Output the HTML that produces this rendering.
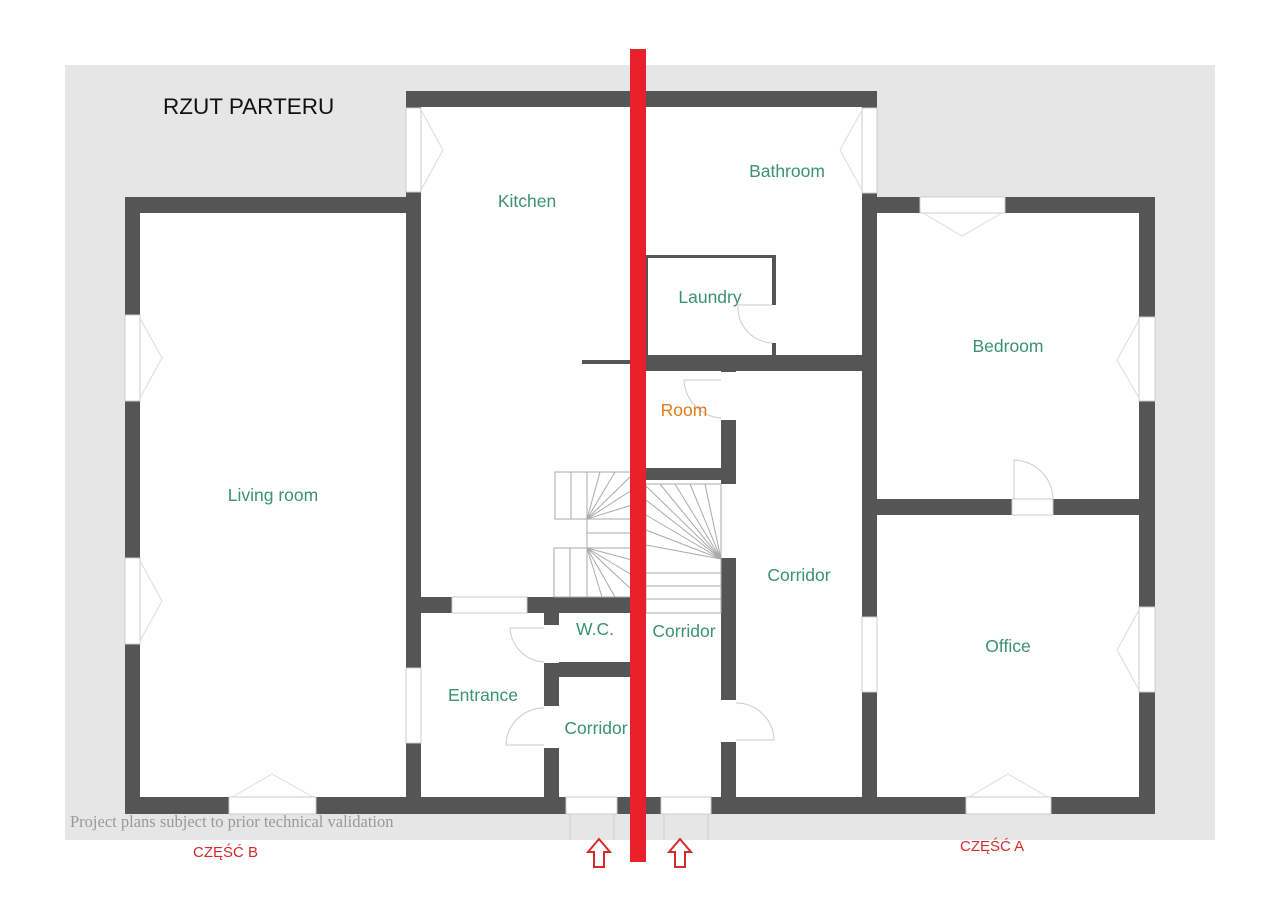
<!DOCTYPE html>
<html><head><meta charset="utf-8"><style>
html,body{margin:0;padding:0;background:#fff;}
svg{display:block;}
.t{font-family:"Liberation Sans",sans-serif;font-size:17.5px;fill:#3b9174;text-anchor:middle;}
</style></head><body>
<svg width="1280" height="905" viewBox="0 0 1280 905" xmlns="http://www.w3.org/2000/svg">
<rect x="65" y="65" width="1150" height="775" fill="#e6e6e6"/>
<rect x="125" y="197" width="296" height="616" fill="#fff"/>
<rect x="406" y="91" width="471" height="722" fill="#fff"/>
<rect x="877" y="197" width="278" height="616" fill="#fff"/>
<g fill="#555">
<rect x="406" y="91" width="471" height="16"/>
<rect x="125" y="197" width="296" height="16"/>
<rect x="125" y="197" width="15" height="616"/>
<rect x="406" y="91" width="15" height="706"/>
<rect x="125" y="797" width="1030" height="17"/>
<rect x="862" y="91" width="15" height="722"/>
<rect x="877" y="197" width="278" height="16"/>
<rect x="1139" y="197" width="16" height="616"/>
<rect x="877" y="499" width="262" height="16"/>
<rect x="646" y="355" width="216" height="16"/>
<rect x="582" y="360" width="64" height="4"/>
<rect x="721" y="371" width="15" height="426"/>
<rect x="646" y="468" width="75" height="12"/>
<rect x="421" y="597" width="211" height="16"/>
<rect x="544" y="613" width="15" height="184"/>
<rect x="544" y="662" width="88" height="15"/>
<rect x="646" y="255" width="130" height="3"/>
<rect x="772" y="255" width="4" height="100"/>
<rect x="646" y="255" width="2" height="100"/>
</g>
<g fill="#fff" stroke="#ccc" stroke-width="1">
<rect x="125" y="315" width="15" height="86"/>
<rect x="125" y="558" width="15" height="86"/>
<rect x="406" y="108" width="15" height="84"/>
<rect x="406" y="668" width="15" height="75"/>
<rect x="862" y="108" width="15" height="85"/>
<rect x="862" y="617" width="15" height="75"/>
<rect x="920" y="197" width="85" height="16"/>
<rect x="1139" y="317" width="16" height="84"/>
<rect x="1139" y="607" width="16" height="85"/>
<rect x="229" y="797" width="87" height="17"/>
<rect x="566" y="797" width="51" height="17"/>
<rect x="661" y="797" width="50" height="17"/>
<rect x="966" y="797" width="85" height="17"/>
<rect x="452" y="597" width="75" height="16"/>
<rect x="1012" y="499" width="41" height="16"/>
</g>
<g fill="#fff" stroke="none">
<rect x="721" y="372" width="15" height="48"/>
<rect x="721" y="484" width="15" height="74"/>
<rect x="721" y="700" width="15" height="42"/>
<rect x="544" y="625" width="15" height="38"/>
<rect x="544" y="706" width="15" height="42"/>
<rect x="772" y="305" width="4" height="38"/>
</g>
<g fill="none" stroke="#ccc" stroke-width="1">
<path d="M1014 499 V460 A40 40 0 0 1 1053 499"/>
<path d="M772 305 H738 A36 36 0 0 0 772 343"/>
<path d="M544 628 H510 A36 36 0 0 0 544 662"/>
<path d="M544 708 A38 38 0 0 0 506 745 H544"/>
<path d="M736 703 A38 38 0 0 1 774 740 H736"/>
<path d="M721 380 H684 A40 40 0 0 0 721 418"/>
<path d="M570 814 V840 M614 814 V840 M664 814 V840 M708 814 V840"/>
</g>
<g fill="none" stroke="#ddd" stroke-width="1">
<path d="M140 318 L162 358 L140 398 M140 561 L162 601 L140 641"/>
<path d="M421 110 L443 150 L421 190 M862 110 L840 150 L862 190"/>
<path d="M1139 320 L1117 360 L1139 398 M1139 610 L1117 650 L1139 690"/>
<path d="M923 213 L962 236 L1002 213 M232 797 L272 774 L313 797 M969 797 L1008 774 L1048 797"/>
</g>
<g fill="none" stroke="#aaa" stroke-width="1">
<rect x="555" y="472" width="77" height="47"/>
<line x1="571" y1="472" x2="571" y2="519"/><line x1="587" y1="472" x2="587" y2="519"/>
<rect x="554" y="548" width="78" height="49"/>
<line x1="570" y1="548" x2="570" y2="597"/><line x1="587" y1="548" x2="587" y2="597"/>
<rect x="587" y="519" width="45" height="29"/><line x1="587" y1="533" x2="632" y2="533"/>
<path d="M587 519 L632 490 M587 519 L632 505 M587 519 L632 475 M587 519 L615 472 M587 519 L600 472"/>
<path d="M587 548 L632 575 M587 548 L632 560 M587 548 L632 590 M587 548 L615 597 M587 548 L602 597"/>
<rect x="646" y="484" width="75" height="129"/>
<line x1="646" y1="573" x2="721" y2="573"/><line x1="646" y1="586" x2="721" y2="586"/><line x1="646" y1="599" x2="721" y2="599"/>
<path d="M721 559 L646 486 M721 559 L660 484 M721 559 L675 484 M721 559 L690 484 M721 559 L705 484 M721 559 L646 500 M721 559 L646 515 M721 559 L646 530 M721 559 L646 545"/>
</g>
<rect x="630" y="49" width="16" height="813" fill="#e8202a"/>
<g fill="none" stroke="#d42a2a" stroke-width="2">
<path d="M594 867 V852 H588 L599 839 L610 852 H604 V867 Z"/>
<path d="M675 867 V852 H669 L680 839 L691 852 H685 V867 Z"/>
</g>
<text x="163" y="114" font-family="Liberation Sans,sans-serif" font-size="22.5" fill="#111">RZUT PARTERU</text>
<text class="t" x="527" y="207">Kitchen</text>
<text class="t" x="787" y="177">Bathroom</text>
<text class="t" x="710" y="303">Laundry</text>
<text class="t" x="1008" y="352">Bedroom</text>
<text class="t" x="684" y="416" style="fill:#e07b1a">Room</text>
<text class="t" x="273" y="501">Living room</text>
<text class="t" x="799" y="581">Corridor</text>
<text class="t" x="595" y="635">W.C.</text>
<text class="t" x="684" y="637">Corridor</text>
<text class="t" x="1008" y="652">Office</text>
<text class="t" x="483" y="701">Entrance</text>
<text class="t" x="596" y="734">Corridor</text>
<text x="70" y="827" font-family="Liberation Serif,serif" font-size="16.5" fill="#999">Project plans subject to prior technical validation</text>
<text x="193" y="857" font-family="Liberation Sans,sans-serif" font-size="15" fill="#d42a2a">CZĘŚĆ B</text>
<text x="960" y="851" font-family="Liberation Sans,sans-serif" font-size="15" fill="#d42a2a">CZĘŚĆ A</text>
</svg>
</body></html>
